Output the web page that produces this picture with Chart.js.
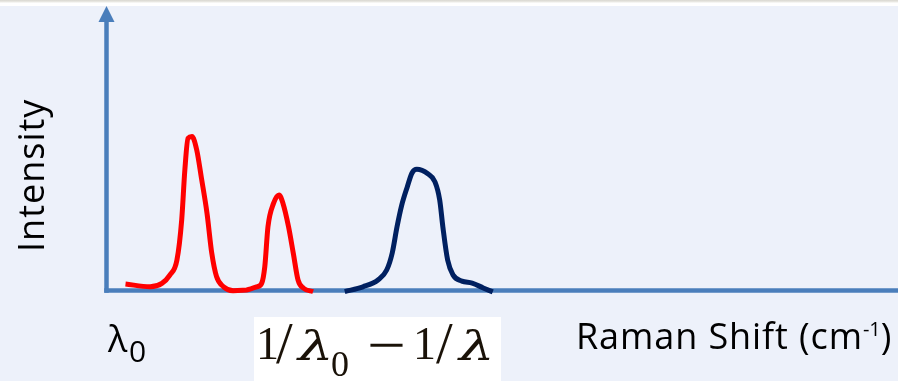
<!DOCTYPE html>
<html>
<head>
<meta charset="utf-8">
<script src="https://cdn.jsdelivr.net/npm/chart.js@4/dist/chart.umd.min.js"></script>
<style>
  html, body { margin: 0; padding: 0; background: #EDF1FA; }
  #wrap { position: relative; width: 898px; height: 381px; overflow: hidden; background: #EDF1FA; }
  #topband { position: absolute; left: 0; top: 0; width: 898px; height: 6px;
    background: linear-gradient(#d9d7d0 0px, #ecebe6 2px, #ffffff 3px, #ffffff 6px); }
  canvas { position: absolute; left: 0; top: 0; }
  .lbl { position: absolute; white-space: nowrap; line-height: 1; color: #000; font-family: "Open Sans", sans-serif; }
  #ylab { left: 13px; top: 252px; font-size: 36px; letter-spacing: 1px; transform-origin: 0 0; transform: rotate(-90deg); }
  #xlab { left: 576px; top: 318px; font-size: 36px; letter-spacing: 0.9px; }
  #xlab sup { font-size: 20px; vertical-align: 0; position: relative; top: -13px; letter-spacing: 0; }
  #lam { left: 108px; top: 321px; font-size: 36px; }
  #lamsub { left: 129px; top: 336px; font-size: 30px; }
  #formula { position: absolute; left: 254px; top: 317px; width: 247px; height: 64px; background: #ffffff; }
  .m { position: absolute; line-height: 1; color: #1a1208; font-family: "Liberation Serif", "Times New Roman", serif; white-space: nowrap; }
  .g { font-family: "DejaVu Serif", serif; font-style: italic; font-size: 40px; top: 9px;
       transform: scale(1.4, 1.02); transform-origin: 0 34px; }
</style>
</head>
<body>
<div id="wrap">
  <canvas id="chart" width="898" height="381"></canvas>
  <div id="topband"></div>
  <div class="lbl" id="ylab">Intensity</div>
  <div class="lbl" id="lam">λ</div>
  <div class="lbl" id="lamsub">0</div>
  <div id="formula">
    <span class="m" style="left:2px;top:4px;font-size:46px;">1</span>
    <span class="m" style="left:22px;top:-4px;font-size:60px;">/</span>
    <span class="m g" style="left:44px;">λ</span>
    <span class="m" style="left:77px;top:29px;font-size:36px;">0</span>
    <span class="m" style="left:113px;top:-2px;font-size:60px;transform:scaleX(1.15);transform-origin:0 0;">−</span>
    <span class="m" style="left:159px;top:4px;font-size:46px;">1</span>
    <span class="m" style="left:182px;top:-4px;font-size:60px;">/</span>
    <span class="m g" style="left:205px;">λ</span>
  </div>
  <div class="lbl" id="xlab">Raman Shift (cm<sup>-1</sup>)</div>
</div>
<script>
// Raman shift axis runs 0..100 (arbitrary units), intensity 0..100.
const redShift = [2.4, 5.5, 7.0, 8.0, 8.9, 9.5, 9.9, 10.3, 10.8, 11.4, 12.0, 12.7, 13.3, 13.9, 14.8, 16.0, 17.7,
  19.0, 19.6, 20.0, 20.4, 21.1, 21.8, 22.3, 23.0, 23.6, 24.2, 24.9, 26.1];
const redIntensity = [2.3, 1.3, 2.5, 5.4, 10.7, 24.8, 42.4, 53.5, 54.1, 49.4, 39.4, 27.1, 13.1, 4.9, 1.3, -0.1, 0.2,
  1.3, 2.5, 8.4, 22.4, 30.6, 33.6, 30.6, 22.4, 13.1, 3.7, 0.8, -0.4];

const navyShift = [30.1, 32.4, 34.3, 35.4, 36.1, 36.7, 37.3, 38.0, 38.6, 39.2, 40.6, 41.5, 42.1, 42.5, 43.1,
  43.8, 44.9, 46.2, 47.6, 48.8];
const navyIntensity = [-0.4, 1.3, 3.7, 7.2, 13.2, 22.3, 30.0, 36.4, 41.3, 42.6, 41.0, 38.2, 31.8, 22.3, 10.7,
  5.4, 3.3, 2.6, 0.9, -0.5];

const toPoints = (xs, ys) => xs.map((x, i) => ({ x: x, y: ys[i] }));

const AXIS_COLOR = '#4A7EBB';

// Axes with an arrow head on the intensity axis, drawn under the spectra.
const arrowAxes = {
  id: 'arrowAxes',
  beforeDatasetsDraw(chart) {
    const { ctx } = chart;
    const xs = chart.scales.x, ys = chart.scales.y;
    const x0 = xs.getPixelForValue(xs.min);
    const x1 = xs.getPixelForValue(xs.max);
    const y0 = ys.getPixelForValue(ys.min);
    const yTop = ys.getPixelForValue(ys.max);
    const head = 16, half = 8, lw = 4.5;
    ctx.save();
    ctx.strokeStyle = AXIS_COLOR;
    ctx.fillStyle = AXIS_COLOR;
    ctx.lineWidth = lw;
    ctx.beginPath();
    ctx.moveTo(x0, y0 + lw / 2);
    ctx.lineTo(x0, yTop + head - 1);
    ctx.stroke();
    ctx.beginPath();
    ctx.moveTo(x0 - lw / 2, y0);
    ctx.lineTo(x1, y0);
    ctx.stroke();
    ctx.beginPath();
    ctx.moveTo(x0, yTop);
    ctx.lineTo(x0 + half, yTop + head);
    ctx.lineTo(x0 - half, yTop + head);
    ctx.closePath();
    ctx.fill();
    ctx.restore();
  }
};

new Chart(document.getElementById('chart'), {
  type: 'scatter',
  data: {
    datasets: [
      {
        data: toPoints(redShift, redIntensity),
        showLine: true,
        borderColor: '#FF0000',
        borderWidth: 5,
        pointRadius: 0,
        cubicInterpolationMode: 'monotone',
        clip: false
      },
      {
        data: toPoints(navyShift, navyIntensity),
        showLine: true,
        borderColor: '#002060',
        borderWidth: 5,
        pointRadius: 0,
        cubicInterpolationMode: 'monotone',
        clip: false
      }
    ]
  },
  options: {
    responsive: false,
    animation: false,
    events: [],
    layout: { padding: { left: 106.5, right: 0, top: 6, bottom: 90.5 } },
    plugins: { legend: { display: false }, tooltip: { enabled: false } },
    scales: {
      x: { type: 'linear', min: 0, max: 100, display: false },
      y: { type: 'linear', min: 0, max: 100, display: false }
    }
  },
  plugins: [arrowAxes]
});
</script>
</body>
</html>
